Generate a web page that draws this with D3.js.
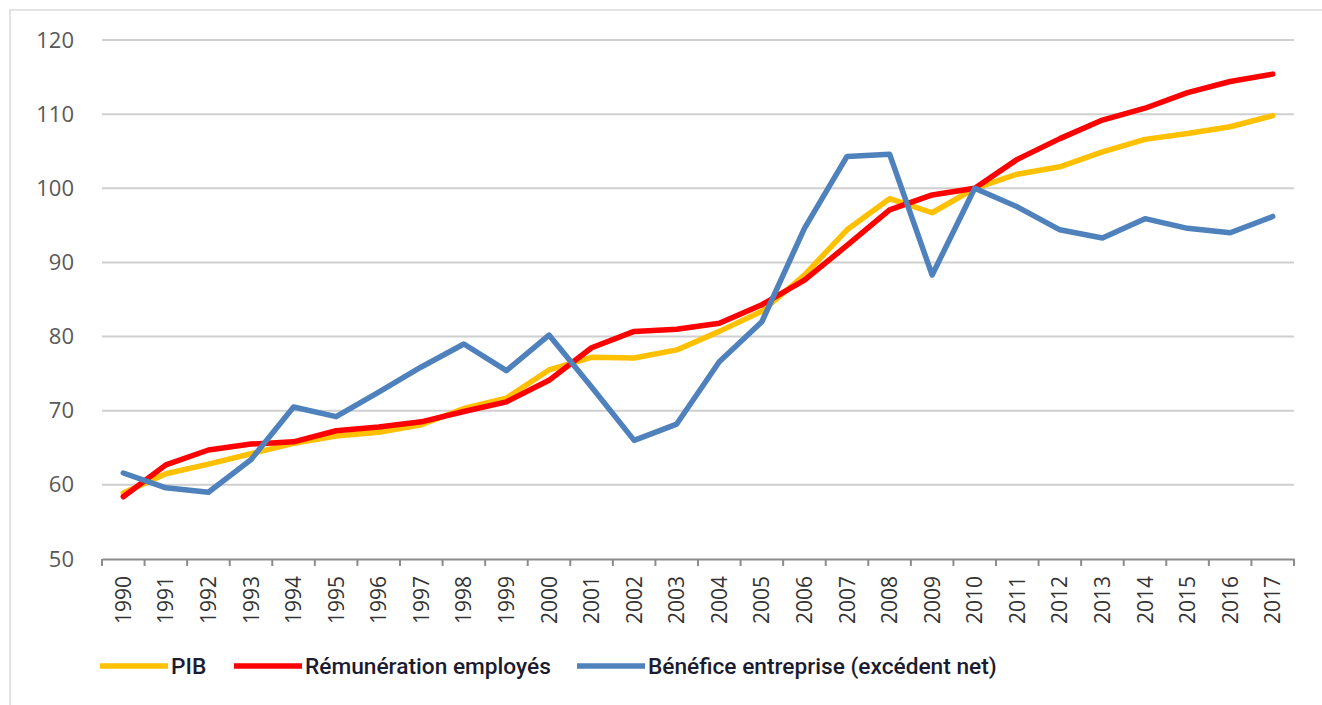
<!DOCTYPE html>
<html>
<head>
<meta charset="utf-8">
<script src="https://cdn.jsdelivr.net/npm/d3@7"></script>
<style>
  html, body { margin: 0; padding: 0; background: #fff; }
  svg { display: block; }
</style>
</head>
<body>
<div id="chart"></div>
<script>
const years = d3.range(1990, 2018).map(String);
const yTicks = [50, 60, 70, 80, 90, 100, 110, 120];

const pib = [58.9, 61.5, 62.8, 64.2, 65.6, 66.6, 67.1, 68.1, 70.3, 71.7, 75.5, 77.2, 77.1, 78.2, 80.7, 83.4, 88.3, 94.4, 98.6, 96.7, 100, 101.9, 102.9, 104.9, 106.6, 107.4, 108.3, 109.8];
const remuneration = [58.4, 62.7, 64.7, 65.5, 65.8, 67.3, 67.8, 68.5, 69.9, 71.2, 74.1, 78.5, 80.7, 81.0, 81.8, 84.3, 87.6, 92.3, 97.1, 99.1, 100, 103.9, 106.7, 109.2, 110.8, 112.9, 114.4, 115.4];
const benefice = [61.6, 59.6, 59.0, 63.4, 70.5, 69.2, 72.5, 75.9, 79.0, 75.4, 80.2, 73.2, 66.0, 68.2, 76.6, 82.0, 94.6, 104.3, 104.6, 88.3, 100, 97.5, 94.4, 93.3, 95.9, 94.6, 94.0, 96.2];

const series = [
  { name: 'PIB', values: pib, color: '#FFC000' },
  { name: 'Rémunération employés', values: remuneration, color: '#FF0000' },
  { name: 'Bénéfice entreprise (excédent net)', values: benefice, color: '#4F81BD' }
];

const W = 1322, H = 705;
const margin = { top: 40, right: 28, bottom: 146, left: 102 };
const width = W - margin.left - margin.right;
const height = H - margin.top - margin.bottom;

const svg = d3.select('#chart')
  .append('svg')
  .attr('width', W)
  .attr('height', H);

// outer frame (cut off at right and bottom like the source image)
svg.append('rect')
  .attr('x', 10).attr('y', 10)
  .attr('width', W + 20).attr('height', H + 20)
  .attr('fill', 'none')
  .attr('stroke', '#e3e3e3')
  .attr('stroke-width', 2);

const g = svg.append('g')
  .attr('transform', `translate(${margin.left},${margin.top})`);

const x = d3.scaleBand().domain(years).range([0, width]);
const y = d3.scaleLinear().domain([50, 120]).range([height, 0]);

// gridlines
g.append('g')
  .selectAll('line')
  .data(yTicks.filter(d => d > 50))
  .enter()
  .append('line')
  .attr('x1', 0)
  .attr('x2', width)
  .attr('y1', d => y(d))
  .attr('y2', d => y(d))
  .attr('stroke', '#cfcfcf')
  .attr('stroke-width', 2);

// y axis labels
const yAxis = g.append('g')
  .call(d3.axisLeft(y).tickValues(yTicks).tickSize(0).tickPadding(28));
yAxis.select('.domain').remove();
yAxis.selectAll('text')
  .style('font-family', '"Open Sans", sans-serif')
  .style('font-size', '22px')
  .attr('fill', '#595959');

// x axis
const xAxis = g.append('g')
  .attr('transform', `translate(0,${height})`)
  .call(d3.axisBottom(x).tickSize(0));
xAxis.select('.domain')
  .attr('stroke', '#8c8c8c')
  .attr('stroke-width', 2);

// tick marks between categories
xAxis.append('g')
  .selectAll('line')
  .data(d3.range(years.length + 1))
  .enter()
  .append('line')
  .attr('x1', i => i * x.step())
  .attr('x2', i => i * x.step())
  .attr('y1', 0)
  .attr('y2', 7)
  .attr('stroke', '#8c8c8c')
  .attr('stroke-width', 2);

xAxis.selectAll('.tick text')
  .style('font-family', '"Open Sans", sans-serif')
  .style('font-size', '21px')
  .attr('fill', '#333333')
  .attr('text-anchor', 'end')
  .attr('transform', 'rotate(-90)')
  .attr('x', -17)
  .attr('y', 0)
  .attr('dy', '0.36em');

// lines
const line = d3.line()
  .x((d, i) => x(years[i]) + x.bandwidth() / 2)
  .y(d => y(d));

g.selectAll('.series')
  .data(series)
  .enter()
  .append('path')
  .attr('class', 'series')
  .attr('fill', 'none')
  .attr('stroke', d => d.color)
  .attr('stroke-width', 5.5)
  .attr('stroke-linejoin', 'round')
  .attr('stroke-linecap', 'round')
  .attr('d', d => line(d.values));

// legend
const legendX = [100, 234, 577];
const legend = svg.append('g')
  .attr('transform', 'translate(0,666)')
  .selectAll('g')
  .data(series)
  .enter()
  .append('g')
  .attr('transform', (d, i) => `translate(${legendX[i]},0)`);

legend.append('line')
  .attr('x1', 0).attr('x2', 68)
  .attr('y1', 0).attr('y2', 0)
  .attr('stroke', d => d.color)
  .attr('stroke-width', 5.5);

legend.append('text')
  .attr('x', 71)
  .attr('dy', '0.35em')
  .style('font-family', 'Roboto, sans-serif')
  .style('font-weight', 500)
  .style('font-size', '22.7px')
  .attr('fill', '#1c1c30')
  .text(d => d.name);
</script>
</body>
</html>
